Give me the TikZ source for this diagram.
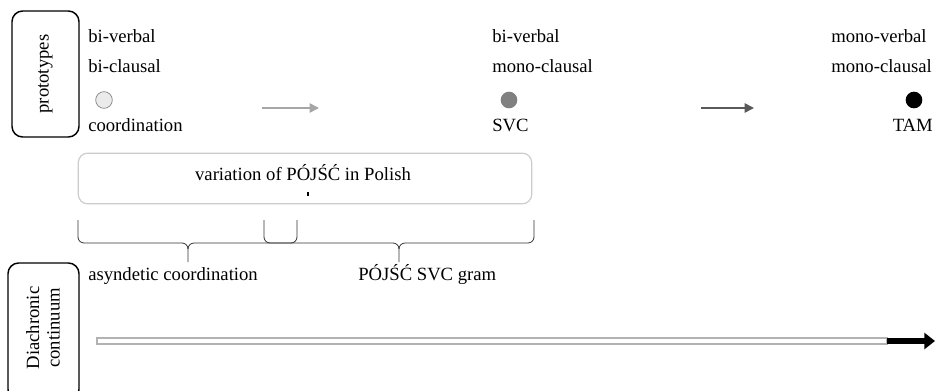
\documentclass[tikz,border=0pt]{standalone}
\usepackage{fontspec}
\setmainfont{Liberation Serif}
\usetikzlibrary{arrows.meta}
\begin{document}
\begin{tikzpicture}[x=0.75pt,y=-0.75pt,
  lbl/.style={font=\fontsize{14}{14}\selectfont, inner sep=0pt, anchor=base west},
  sidebox/.style={draw=black, line width=1.1pt, rounded corners=8pt},
  brc/.style={draw=black!80, line width=0.6pt},
  dot/.style={circle, inner sep=0pt, minimum size=12.5pt},
  step1/.style={draw=black!35, line width=1.2pt, -{Triangle[length=7pt,width=7pt]}},
  step2/.style={draw=black!65, line width=1.2pt, -{Triangle[length=7pt,width=7pt]}}]
\useasboundingbox (0,0) rectangle (935,390);
\clip (0,0) rectangle (935,390);

% side boxes
\draw[sidebox] (12,11) rectangle (79,137);
\node[lbl, anchor=center, rotate=90] (proto) at (45.5,74) {prototypes};
\draw[sidebox] (8,263) rectangle (79,400);
\node[lbl, anchor=center, rotate=90, align=center, font=\fontsize{14}{15.5}\selectfont] (dia) at (43,328) {Diachronic\\continuum};

% column 1
\node[lbl] (bv1) at (88,42) {bi-verbal};
\node[lbl] (bc1) at (88,72) {bi-clausal};
\node[dot, draw=black!45, fill=black!8, line width=0.6pt] (d1) at (104,100) {};
\node[lbl] (co) at (88,131) {coordination};

% column 2
\node[lbl] (bv2) at (492,42) {bi-verbal};
\node[lbl] (mc2) at (492,72) {mono-clausal};
\node[dot, fill=black!50] (d2) at (509,100) {};
\node[lbl] (svc) at (492,131) {SVC};

% column 3
\node[lbl] (mv3) at (831,42) {mono-verbal};
\node[lbl] (mc3) at (831,72) {mono-clausal};
\node[dot, fill=black] (d3) at (914,100) {};
\node[lbl, anchor=base east] (tam) at (933,131) {TAM};

% arrows between prototypes
\coordinate (a1s) at (262,108);
\coordinate (a1e) at (319,108);
\draw[step1] (a1s) -- (a1e);
\coordinate (a2s) at (701,108);
\coordinate (a2e) at (754,108);
\draw[step2] (a2s) -- (a2e);

% variation box
\node[draw=black!20, line width=0.9pt, rounded corners=7pt, minimum width=340pt, minimum height=38pt, inner sep=0pt] (var) at (305,178.5) {};
\node[lbl, anchor=base] (vartxt) at (303,180) {variation of PÓJŚĆ in Polish};
\coordinate (t1) at (308,192);
\coordinate (t2) at (308,196);
\draw[line width=1pt] (t1) -- (t2);

% braces
\draw[brc] (78,220) -- (78,237) to[out=-90,in=180] (84,243) -- (182,243)
  to[out=0,in=90] (188,249) -- (188,262);
\draw[brc] (188,249) to[out=90,in=180] (194,243) -- (291,243)
  to[out=0,in=-90] (297,237) -- (297,220);
\draw[brc] (264,220) -- (264,237) to[out=-90,in=180] (270,243) -- (393,243)
  to[out=0,in=90] (399,249) -- (399,262);
\draw[brc] (399,249) to[out=90,in=180] (405,243) -- (528,243)
  to[out=0,in=-90] (534,237) -- (534,220);

\node[lbl] (asy) at (88,280) {asyndetic coordination};
\node[lbl] (gram) at (358,280) {PÓJŚĆ SVC gram};

% diachronic arrow
\draw[draw=black!30, line width=0.8pt] (97,338) rectangle (887,344);
\coordinate (b1) at (887,341);
\coordinate (b2) at (935,341);
\draw[line width=4.5pt, -{Triangle[length=8pt,width=12pt]}] (b1) -- (b2);
\end{tikzpicture}
\end{document}
